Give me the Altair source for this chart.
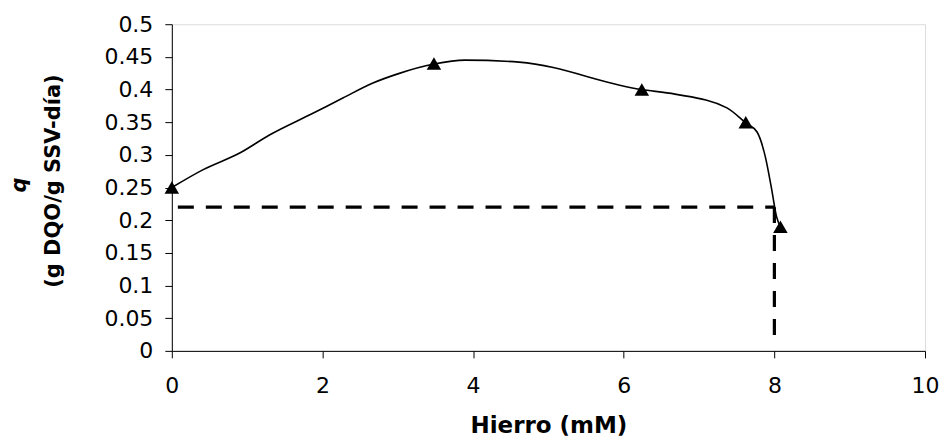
import altair as alt
import pandas as pd

# Fitted curve (model)
curve_x = [0, 0.41, 0.92, 1.29, 1.88, 2.27, 2.67, 3.0, 3.48, 3.89, 4.61,
           6.23, 6.68, 7.37, 7.62, 7.77, 7.88, 7.96, 8.03, 8.08]
curve_y = [0.25, 0.277, 0.304, 0.33, 0.364, 0.387, 0.41, 0.424, 0.439, 0.445, 0.442,
           0.40, 0.393, 0.372, 0.349, 0.335, 0.297, 0.25, 0.205, 0.19]

# Measured points (triangles)
pts_x = [0, 3.48, 6.24, 7.62, 8.08]
pts_y = [0.25, 0.44, 0.40, 0.35, 0.19]

# Dashed guide lines
guide_x = [0.08, 8.0]
guide_y = [0.22, 0.22]
vguide_x = [8.0, 8.0]
vguide_y = [0.22, 0.02]

x_ticks = [0, 2, 4, 6, 8, 10]
y_ticks = [0, 0.05, 0.1, 0.15, 0.2, 0.25, 0.3, 0.35, 0.4, 0.45, 0.5]

FONT = "DejaVu Sans"

xscale = alt.Scale(domain=[0, 10], nice=False, zero=False)
yscale = alt.Scale(domain=[0, 0.5], nice=False)

xaxis = alt.Axis(values=x_ticks, grid=False, domainColor="black", tickColor="black",
                 tickSize=7, labelFont=FONT, labelFontSize=22, labelColor="black",
                 labelPadding=18, labelOverlap=False, labelFlush=False, format="d",
                 title="Hierro (mM)", titleFont=FONT, titleFontSize=23,
                 titleFontWeight="bold", titleColor="black", titlePadding=18)
yaxis = alt.Axis(values=y_ticks, grid=False, domainColor="black", tickColor="black",
                 tickSize=7, labelFont=FONT, labelFontSize=22, labelColor="black",
                 labelPadding=12, labelOverlap=False, labelFlush=False,
                 format=".2~f", title=None)

curve_df = pd.DataFrame({"x": curve_x, "y": curve_y})
pts_df = pd.DataFrame({"x": pts_x, "y": pts_y})
h_df = pd.DataFrame({"x": [guide_x[0]], "x2": [guide_x[1]], "y": [guide_y[0]]})
v_df = pd.DataFrame({"x": [vguide_x[0]], "y": [vguide_y[0]], "y2": [vguide_y[1]]})

X = alt.X("x:Q", scale=xscale, axis=xaxis)
Y = alt.Y("y:Q", scale=yscale, axis=yaxis)

curve = alt.Chart(curve_df).mark_line(color="black", strokeWidth=1.6, interpolate="monotone").encode(
    x=X, y=Y,
)

hline = alt.Chart(h_df).mark_rule(color="black", strokeWidth=3.2, strokeDash=[16, 12]).encode(
    x=X, x2="x2:Q", y=Y
)
vline = alt.Chart(v_df).mark_rule(color="black", strokeWidth=3.2, strokeDash=[16, 12]).encode(
    x=X, y=Y, y2="y2:Q"
)

points = alt.Chart(pts_df).mark_point(shape="triangle-up", filled=True, color="black",
                                      opacity=1, size=210).encode(
    x=X, y=Y
)

title_q = alt.Chart(pd.DataFrame({"t": ["q"]})).mark_text(
    angle=270, font=FONT, fontSize=21, fontWeight="bold", fontStyle="italic", color="black"
).encode(x=alt.value(-152), y=alt.value(161), text="t:N")

title_unit = alt.Chart(pd.DataFrame({"t": ["(g DQO/g SSV-día)"]})).mark_text(
    angle=270, font=FONT, fontSize=21, fontWeight="bold", color="black"
).encode(x=alt.value(-118), y=alt.value(157), text="t:N")

chart = alt.layer(curve, hline, vline, points, title_q, title_unit).properties(
    width=754, height=327,
    autosize=alt.AutoSizeParams(type="none"),
    padding={"left": 164, "top": 16, "right": 15, "bottom": 91},
).configure_view(stroke=None).configure(background="white")

chart.save("out.html", embed_options={"renderer": "svg", "actions": False})
